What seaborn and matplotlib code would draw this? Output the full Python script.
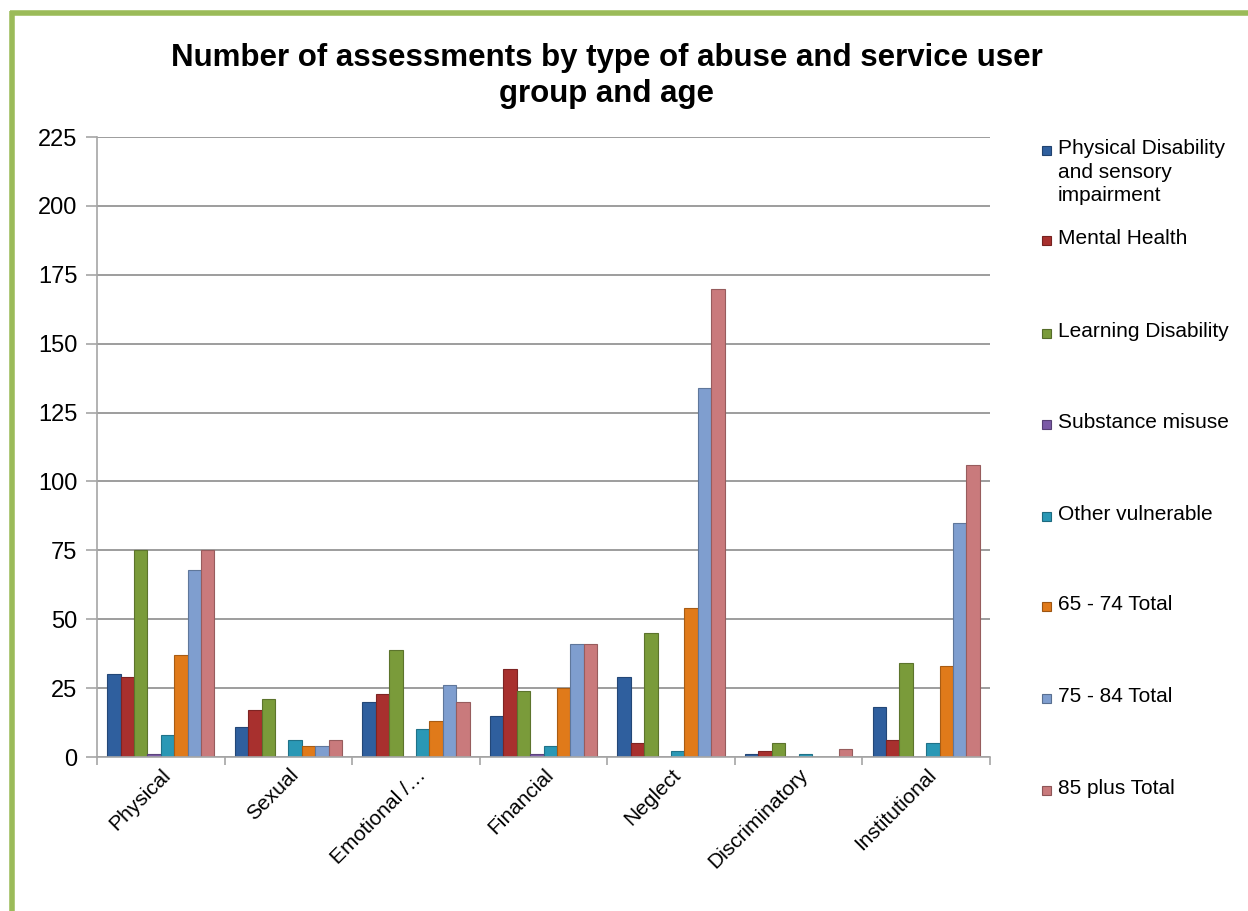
import matplotlib
matplotlib.use("Agg")
import numpy as np
import pandas as pd
import matplotlib.pyplot as plt
import seaborn as sns
from matplotlib.lines import Line2D
from matplotlib.patches import Rectangle
import matplotlib.colors as mcolors

abuse_types = ["Physical", "Sexual", "Emotional /\u2026", "Financial", "Neglect",
               "Discriminatory", "Institutional"]
groups = ["Physical Disability\nand sensory\nimpairment", "Mental Health", "Learning Disability",
          "Substance misuse", "Other vulnerable", "65 - 74 Total", "75 - 84 Total",
          "85 plus Total"]

phys_dis = [30, 11, 20, 15, 29, 1, 18]
mental = [29, 17, 23, 32, 5, 2, 6]
learning = [75, 21, 39, 24, 45, 5, 34]
substance = [1, 0, 0, 1, 0, 0, 0]
other_vul = [8, 6, 10, 4, 2, 1, 5]
age_65_74 = [37, 4, 13, 25, 54, 0, 33]
age_75_84 = [68, 4, 26, 41, 134, 0, 85]
age_85 = [75, 6, 20, 41, 170, 3, 106]

series = [phys_dis, mental, learning, substance, other_vul, age_65_74, age_75_84, age_85]
colors = ["#2F5F9E", "#A8302E", "#7A9B3A", "#7B5AA6", "#2A98B5", "#E07A1A", "#7F9ECF", "#C97A7C"]

rows = []
for g, vals in zip(groups, series):
    for a, v in zip(abuse_types, vals):
        rows.append({"abuse": a, "group": g, "count": v})
df = pd.DataFrame(rows)

sns.set_style("white")
plt.rcParams["font.family"] = ["Liberation Sans", "DejaVu Sans"]
plt.rcParams["text.color"] = "black"
plt.rcParams["xtick.color"] = "black"
plt.rcParams["ytick.color"] = "black"

fig = plt.figure(figsize=(12.48, 9.11), dpi=100)
ax = fig.add_axes([97 / 1248, 1 - 757 / 911, (990 - 97) / 1248, (757 - 137) / 911])

sns.barplot(data=df, x="abuse", y="count", hue="group", hue_order=groups,
            order=abuse_types, palette=colors, width=0.84, saturation=1,
            legend=False, ax=ax)

for p in ax.patches:
    fc = mcolors.to_rgb(p.get_facecolor())
    p.set_edgecolor(tuple(c * 0.75 for c in fc))
    p.set_linewidth(0.8)

ax.set_ylim(0, 225)
ax.set_yticks(range(0, 226, 25))
ax.set_xlim(-0.5, len(abuse_types) - 0.5)
ax.yaxis.grid(True, color="#8C8C8C", linewidth=1.2)
ax.set_axisbelow(True)
ax.set_xlabel("")
ax.set_ylabel("")

for s in ["top", "right"]:
    ax.spines[s].set_visible(False)
for s in ["left", "bottom"]:
    ax.spines[s].set_color("#A6A6A6")
    ax.spines[s].set_linewidth(1.2)

ax.tick_params(axis="y", labelsize=17, length=8, color="#A6A6A6", width=1.2, pad=6,
               left=True, direction="out", labelcolor="black")
ax.set_xticks(np.arange(-0.5, len(abuse_types), 1), minor=True)
ax.tick_params(axis="x", which="minor", length=6, color="#A6A6A6", width=1.2, bottom=True)
ax.tick_params(axis="x", which="major", length=0, pad=6, labelcolor="black")
ax.set_xticklabels(abuse_types, rotation=45, ha="right", va="top",
                   rotation_mode="anchor", fontsize=15)

fig.text(0.486, 0.953, "Number of assessments by type of abuse and service user\ngroup and age",
         ha="center", va="top", fontsize=22.5, fontweight="bold", linespacing=1.28,
         color="black")

# legend on the right
leg_y = [150, 240, 333, 424, 516, 606, 698, 790]
for g, col, yy in zip(groups, colors, leg_y):
    fig.add_artist(Rectangle((1042 / 1248, 1 - (yy + 5) / 911), 9 / 1248, 9 / 911,
                             transform=fig.transFigure, facecolor=col,
                             edgecolor=tuple(c * 0.7 for c in mcolors.to_rgb(col)), lw=0.8))
    fig.text(1058 / 1248, 1 - (yy - 11) / 911, g, ha="left", va="top", fontsize=15,
             linespacing=1.3, color="black")

# green frame
fig.add_artist(Line2D([10 / 1248, 1], [1 - 13 / 911, 1 - 13 / 911], color="#9BBB59",
                      lw=4, solid_capstyle="butt", transform=fig.transFigure))
fig.add_artist(Line2D([12 / 1248, 12 / 1248], [0, 1 - 11 / 911], color="#9BBB59",
                      lw=4, solid_capstyle="butt", transform=fig.transFigure))

fig.savefig("out.png", dpi=100, facecolor="white")
